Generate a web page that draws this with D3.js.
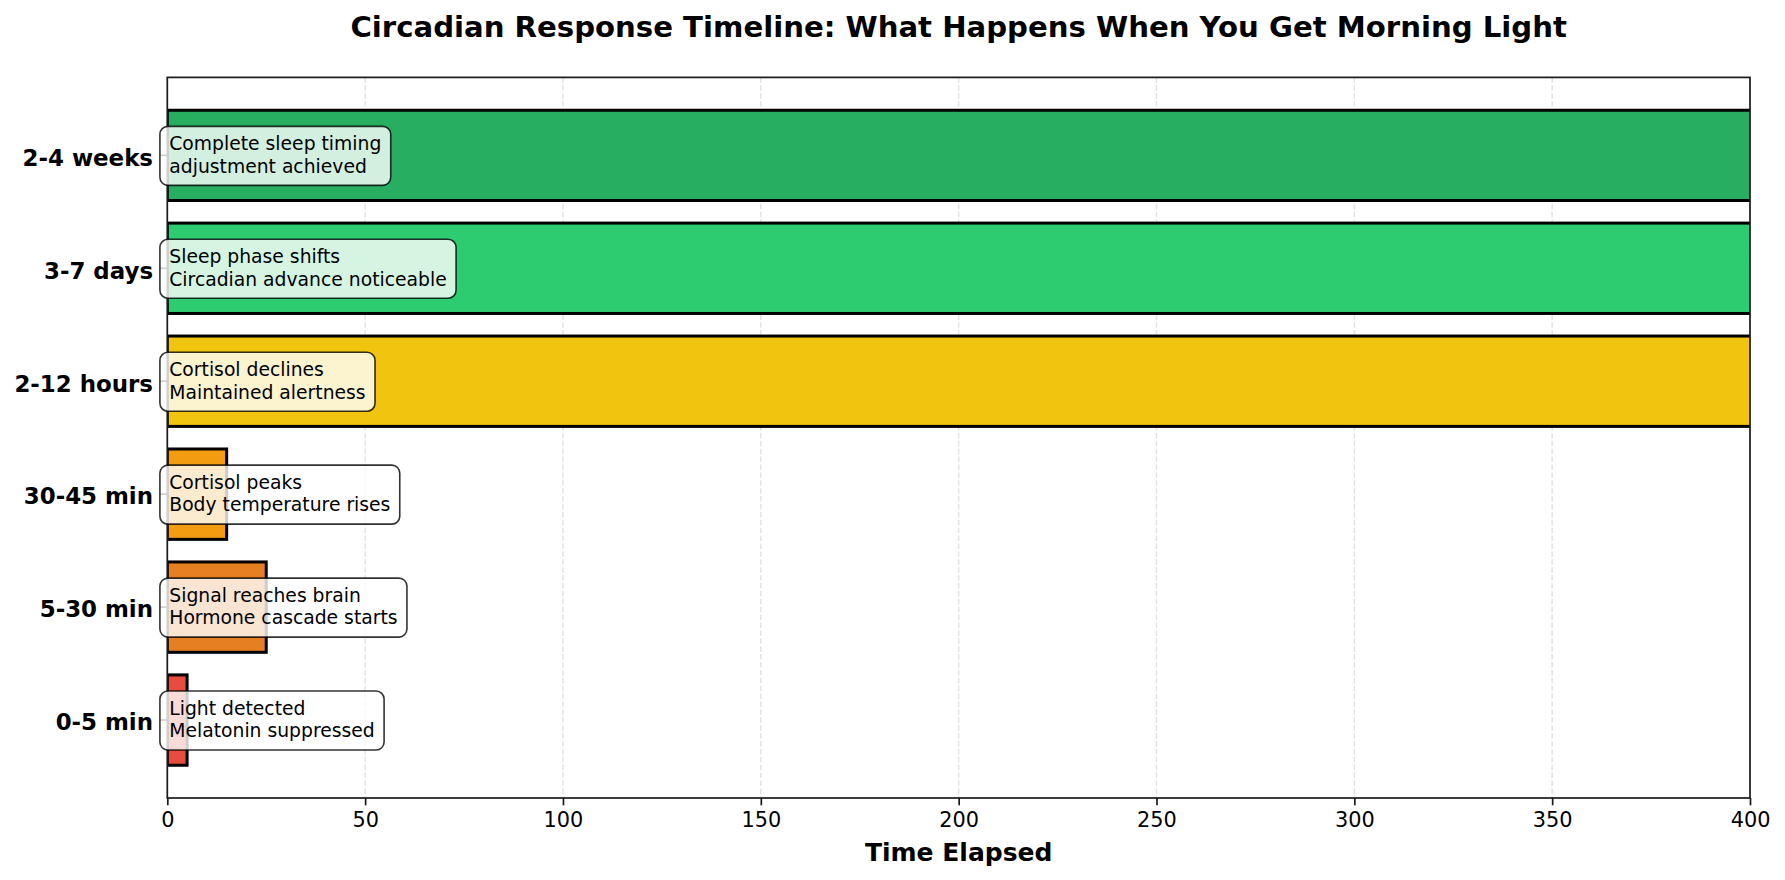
<!DOCTYPE html>
<html>
<head>
<meta charset="utf-8">
<script src="https://cdn.jsdelivr.net/npm/d3@7"></script>
<style>
    body { margin: 0; background: #fff; }
    svg { display: block; font-family: "DejaVu Sans", sans-serif; }
</style>
</head>
<body>
<div id="graphContainer"></div>
<script>
"use strict";
// stages, bottom to top as in the original
const stages = ["0-5 min", "5-30 min", "30-45 min", "2-12 hours", "3-7 days", "2-4 weeks"]
// bar lengths in minutes (the long ones run past the 400 limit and get clipped)
const durations = [5, 25, 15, 600, 5760, 20160]
const barColors = ["#e74c3c", "#e67e22", "#f39c12", "#f1c40f", "#2ecc71", "#27ae60"]
const noteFirst = ["Light detected", "Signal reaches brain", "Cortisol peaks",
    "Cortisol declines", "Sleep phase shifts", "Complete sleep timing"]
const noteSecond = ["Melatonin suppressed", "Hormone cascade starts", "Body temperature rises",
    "Maintained alertness", "Circadian advance noticeable", "adjustment achieved"]
const xTicks = [0, 50, 100, 150, 200, 250, 300, 350, 400]
const xLimit = [0, 400]

;(function () {
    const measurements = {
        width: 1785,
        height: 880,
        left: 167.3,
        right: 1750,
        top: 77.4,
        bottom: 798
    }
    const pt = 150 / 72

    const svg = d3.select('#graphContainer').append('svg')
        .attr('width', measurements.width)
        .attr('height', measurements.height)

    const scaleX = d3.scaleLinear()
        .domain(xLimit)
        .range([measurements.left, measurements.right])

    // band scale: bar height 0.8, matplotlib 5% margins on the y range
    const scaleY = d3.scaleBand()
        .domain(stages.slice().reverse())
        .range([measurements.top, measurements.bottom])
        .paddingInner(0.2)
        .paddingOuter(0.29)

    const rows = stages.map((s, i) => ({
        stage: s, value: durations[i], color: barColors[i],
        line1: noteFirst[i], line2: noteSecond[i]
    }))

    svg.append('clipPath').attr('id', 'plotClip')
        .append('rect')
        .attr('x', measurements.left)
        .attr('y', measurements.top)
        .attr('width', measurements.right - measurements.left)
        .attr('height', measurements.bottom - measurements.top)

    // dashed vertical grid
    svg.append('g').selectAll('line')
        .data(xTicks)
        .enter().append('line')
        .attr('x1', d => scaleX(d)).attr('x2', d => scaleX(d))
        .attr('y1', measurements.top).attr('y2', measurements.bottom)
        .attr('stroke', '#e3e3e3')
        .attr('stroke-width', 1.5)
        .attr('stroke-dasharray', '5.5,2.4')

    // bars
    svg.append('g').attr('clip-path', 'url(#plotClip)')
        .selectAll('rect')
        .data(rows)
        .enter().append('rect')
        .attr('x', scaleX(0))
        .attr('y', d => scaleY(d.stage))
        .attr('width', d => scaleX(d.value) - scaleX(0))
        .attr('height', scaleY.bandwidth())
        .attr('fill', d => d.color)
        .attr('stroke', '#000')
        .attr('stroke-width', 3)

    // frame
    svg.append('rect')
        .attr('x', measurements.left)
        .attr('y', measurements.top)
        .attr('width', measurements.right - measurements.left)
        .attr('height', measurements.bottom - measurements.top)
        .attr('fill', 'none')
        .attr('stroke', '#1a1a1a')
        .attr('stroke-width', 1.7)

    const xAxis = d3.axisBottom(scaleX)
        .tickValues(xTicks)
        .tickFormat(d3.format('d'))
        .tickSize(3.5 * pt)
        .tickPadding(7)
    const gx = svg.append('g')
        .attr('transform', `translate(0,${measurements.bottom})`)
        .call(xAxis)
    gx.select('.domain').remove()
    gx.selectAll('line').attr('stroke', '#1a1a1a').attr('stroke-width', 1.7)
    gx.selectAll('text')
        .attr('font-family', '"DejaVu Sans", sans-serif')
        .attr('font-size', 10 * pt)
        .attr('fill', '#000')

    const yAxis = d3.axisLeft(scaleY)
        .tickSize(3.5 * pt)
        .tickPadding(7)
    const gy = svg.append('g')
        .attr('transform', `translate(${measurements.left},0)`)
        .call(yAxis)
    gy.select('.domain').remove()
    gy.selectAll('line').attr('stroke', '#1a1a1a').attr('stroke-width', 1.7)
    gy.selectAll('text')
        .attr('font-family', '"DejaVu Sans", sans-serif')
        .attr('font-size', 11 * pt)
        .attr('font-weight', 'bold')
        .attr('fill', '#000')
        .attr('dy', '0.45em')

    // annotation boxes
    const noteSize = 9 * pt
    const pad = 0.5 * noteSize
    const notes = svg.append('g').selectAll('g')
        .data(rows)
        .enter().append('g')
        .attr('transform', d => `translate(${scaleX(0.5)},${scaleY(d.stage) + scaleY.bandwidth() / 2})`)

    const boxes = notes.append('rect')
    const labels = notes.append('text')
        .attr('font-size', noteSize)
        .attr('fill', '#000')
    labels.append('tspan').attr('x', 0).attr('y', -5).text(d => d.line1)
    labels.append('tspan').attr('x', 0).attr('y', 17.3).text(d => d.line2)

    boxes.each(function (d) {
        const textWidth = d3.max(d3.select(this.parentNode).selectAll('tspan').nodes(),
            n => n.getComputedTextLength())
        d3.select(this)
            .attr('x', -pad)
            .attr('y', -29)
            .attr('width', textWidth + 2 * pad)
            .attr('height', 59)
            .attr('rx', 8)
            .attr('ry', 8)
            .attr('fill', 'rgba(255,255,255,0.8)')
            .attr('stroke', 'rgba(0,0,0,0.8)')
            .attr('stroke-width', 1.6)
    })

    // title and axis label
    svg.append('text')
        .attr('x', (measurements.left + measurements.right) / 2)
        .attr('y', 36.5)
        .attr('text-anchor', 'middle')
        .attr('font-size', 14 * pt)
        .attr('font-weight', 'bold')
        .text('Circadian Response Timeline: What Happens When You Get Morning Light')

    svg.append('text')
        .attr('x', (measurements.left + measurements.right) / 2)
        .attr('y', 860.5)
        .attr('text-anchor', 'middle')
        .attr('font-size', 12 * pt)
        .attr('font-weight', 'bold')
        .text('Time Elapsed')
})()
</script>
</body>
</html>
